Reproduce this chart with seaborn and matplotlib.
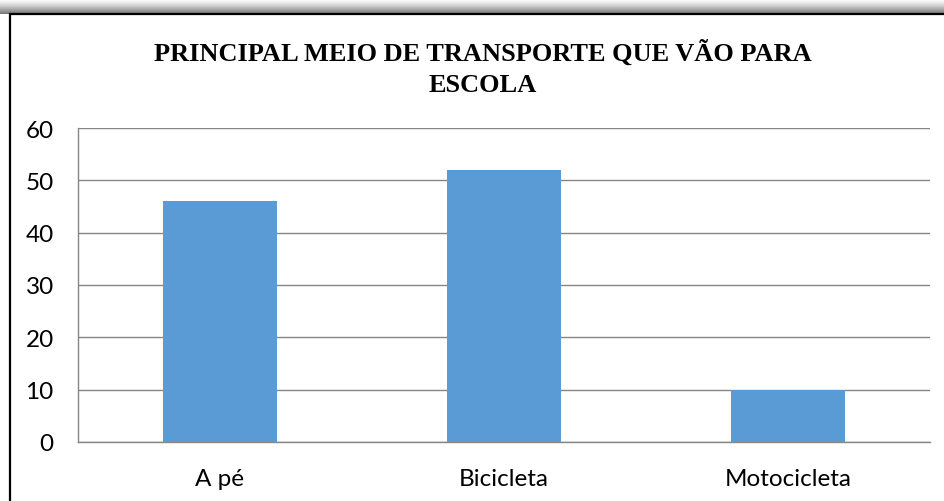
import numpy as np
import matplotlib.pyplot as plt
import seaborn as sns
from matplotlib.patches import Rectangle

categorias = ["A pé", "Bicicleta", "Motocicleta"]
valores = [46, 52, 10]
titulo = "PRINCIPAL MEIO DE TRANSPORTE QUE VÃO PARA\nESCOLA"

sns.set_style("white")
plt.rcParams['font.family'] = ['Lato', 'DejaVu Sans']
plt.rcParams['text.color'] = 'black'
plt.rcParams['xtick.color'] = 'black'
plt.rcParams['ytick.color'] = 'black'

W, H = 945, 502
fig = plt.figure(figsize=(W / 100, H / 100), dpi=100)

# sombra e moldura do gráfico
bg = fig.add_axes([0, 0, 1, 1], zorder=-10)
bg.set_xlim(0, W)
bg.set_ylim(H, 0)
bg.axis("off")
grad = np.linspace(0, 1, 50).reshape(-1, 1)
grad = np.hstack([grad] * 2)
bg.imshow(1 - 0.55 * grad ** 1.3, cmap="gray", vmin=0, vmax=1, aspect="auto",
          extent=[0, W, 15, 0])
bg.add_patch(Rectangle((9.5, 14.5), W + 20, H + 20, facecolor="white",
                       edgecolor="black", lw=1.6))

ax = fig.add_axes([78 / W, 1 - 443 / H, (930 - 78) / W, (443 - 129) / H])
sns.barplot(x=categorias, y=valores, color="#5B9BD5", saturation=1, width=0.4,
            linewidth=0, ax=ax, zorder=3)

ax.set_ylim(0, 60)
ax.set_yticks(range(0, 61, 10))
ax.set_xlim(-0.5, 2.5)
ax.yaxis.grid(True, color="#868686", lw=1)
ax.set_axisbelow(True)
sns.despine(ax=ax, top=True, right=True)
for s in ["left", "bottom"]:
    ax.spines[s].set_color("#868686")
    ax.spines[s].set_linewidth(1)

ax.tick_params(axis="y", length=6.5, color="#868686", labelcolor="black", width=1,
               labelsize=17.5, pad=11)
ax.set_xticks([-0.5, 0.5, 1.5, 2.5], minor=True)
ax.tick_params(axis="x", which="minor", length=5, color="#868686", width=1)
ax.tick_params(axis="x", which="major", length=0, labelsize=17.5,
               labelcolor="black", pad=19)
ax.set_xlabel("")
ax.set_ylabel("")

fig.text(483 / W, 1 - 68 / H, titulo, ha="center", va="center",
         fontsize=19, fontweight="bold", family="Liberation Serif",
         color="black", linespacing=1.45)

fig.savefig("out.png", dpi=100)
